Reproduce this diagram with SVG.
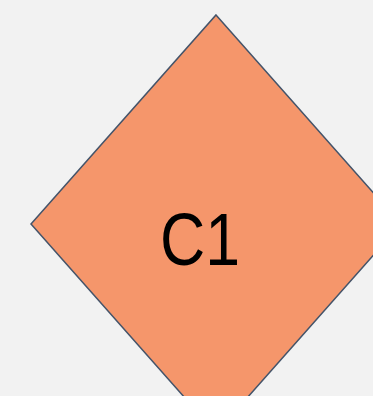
<svg xmlns="http://www.w3.org/2000/svg" width="373" height="396" viewBox="0 0 373 396">
<style>
.shape{fill:#F5966B;stroke:#44546A;stroke-width:1.5}
.lbl{font-family:"Liberation Sans",Arial,sans-serif;font-size:75px;fill:#000}
</style>
<rect width="373" height="396" fill="#F2F2F2"/>
<g id="C1">
<polygon class="shape" points="216,15 401,224 216,433 31,224"/>
<text class="lbl" x="200" y="265" text-anchor="middle" textLength="80" lengthAdjust="spacingAndGlyphs">C1</text>
</g>
<g id="connectors"/>
</svg>
